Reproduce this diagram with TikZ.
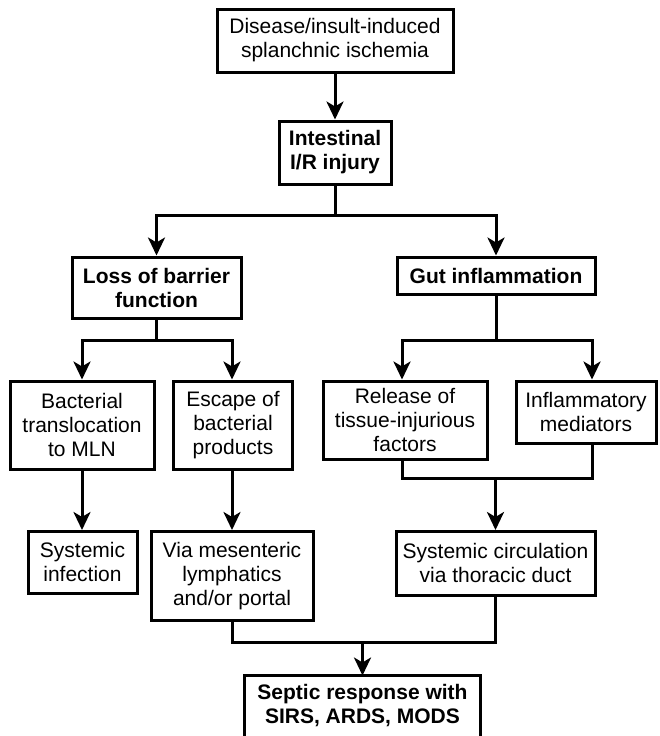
\documentclass[tikz,border=0pt]{standalone}
\usepackage{fontspec}
\setmainfont{Liberation Sans}
\usetikzlibrary{arrows.meta}
\begin{document}
\begin{tikzpicture}[x=1pt,y=-1pt,
  box/.style={draw,line width=3pt,align=center,inner sep=0pt,
    font=\fontsize{21}{24}\selectfont},
  bbox/.style={box,font=\fontsize{21}{24}\selectfont\bfseries},
  con/.style={line width=3pt},
  arr/.style={con,-{Stealth[length=18pt,width=17pt,inset=5pt]}}]
\useasboundingbox (0,0) rectangle (659,736);
% nodes
\node[box,minimum width=236pt,minimum height=63pt] (top) at (335,40.5) {Disease/insult-induced\\splanchnic ischemia};
\node[bbox,minimum width=112pt,minimum height=63pt] (intest) at (335,152.5) {Intestinal\\I/R injury};
\node[bbox,minimum width=169pt,minimum height=61pt] (loss) at (156.5,287.5) {Loss of barrier\\function};
\node[bbox,minimum width=198pt,minimum height=37pt] (gut) at (496,275.5) {Gut inflammation};
\node[box,minimum width=144pt,minimum height=88pt] (bact) at (82,425) {Bacterial\\translocation\\to MLN};
\node[box,minimum width=119pt,minimum height=88pt] (esc) at (233,425) {Escape of\\bacterial\\products};
\node[box,minimum width=164pt,minimum height=78pt] (rel) at (405,420) {Release of\\tissue-injurious\\factors};
\node[box,minimum width=140pt,minimum height=62.5pt] (infl) at (586,412.25) {Inflammatory\\mediators};
\node[box,minimum width=109pt,minimum height=61.5pt] (sysinf) at (82.5,562.25) {Systemic\\infection};
\node[box,minimum width=162pt,minimum height=88.5pt] (via) at (232,575.75) {Via mesenteric\\lymphatics\\and/or portal};
\node[box,minimum width=199pt,minimum height=63.5pt] (syscirc) at (495.5,563.25) {Systemic circulation\\via thoracic duct};
\node[bbox,draw=none,minimum width=233pt,minimum height=57pt] (septic) at (362.5,705.5) {Septic response with\\SIRS, ARDS, MODS};
\draw[con] ([yshift=-12pt]septic.south west) |- (septic.north east) -- ([yshift=-12pt]septic.south east);
% junction coordinates
\coordinate (j1) at (335,215);
\coordinate (j1l) at (156.5,215);
\coordinate (j1r) at (496,215);
\coordinate (j2) at (156.5,340);
\coordinate (j2l) at (82,340);
\coordinate (j2r) at (232,340);
\coordinate (j3) at (496,340);
\coordinate (j3l) at (402,340);
\coordinate (j3r) at (592,340);
\coordinate (j4l) at (402,478);
\coordinate (j4r) at (592,478);
\coordinate (j4) at (495.5,478);
\coordinate (j5l) at (232,642);
\coordinate (j5r) at (495.5,642);
\coordinate (j5) at (362.5,642);
% connectors
\draw[arr] (top) -- (intest);
\draw[con] (intest.south) -- (j1);
\draw[arr] (j1) -- (j1l) -- (loss.north);
\draw[arr] (j1) -- (j1r) -- (gut.north);
\draw[con] (loss.south) -- (j2);
\draw[arr] (j2) -- (j2l) -- (j2l |- bact.north);
\draw[arr] (j2) -- (j2r) -- (j2r |- esc.north);
\draw[con] (gut.south) -- (j3);
\draw[arr] (j3) -- (j3l) -- (j3l |- rel.north);
\draw[arr] (j3) -- (j3r) -- (j3r |- infl.north);
\draw[arr] (bact.south) -- (bact.south |- sysinf.north);
\draw[arr] (j2r |- esc.south) -- (j2r |- via.north);
\draw[con] (j4l |- rel.south) -- (j4l) -- (j4r) -- (j4r |- infl.south);
\draw[arr] (j4) -- (syscirc.north);
\draw[con] (via.south) -- (j5l) -- (j5r) -- (syscirc.south);
\draw[arr] (j5) -- (septic.north);
\end{tikzpicture}
\end{document}
